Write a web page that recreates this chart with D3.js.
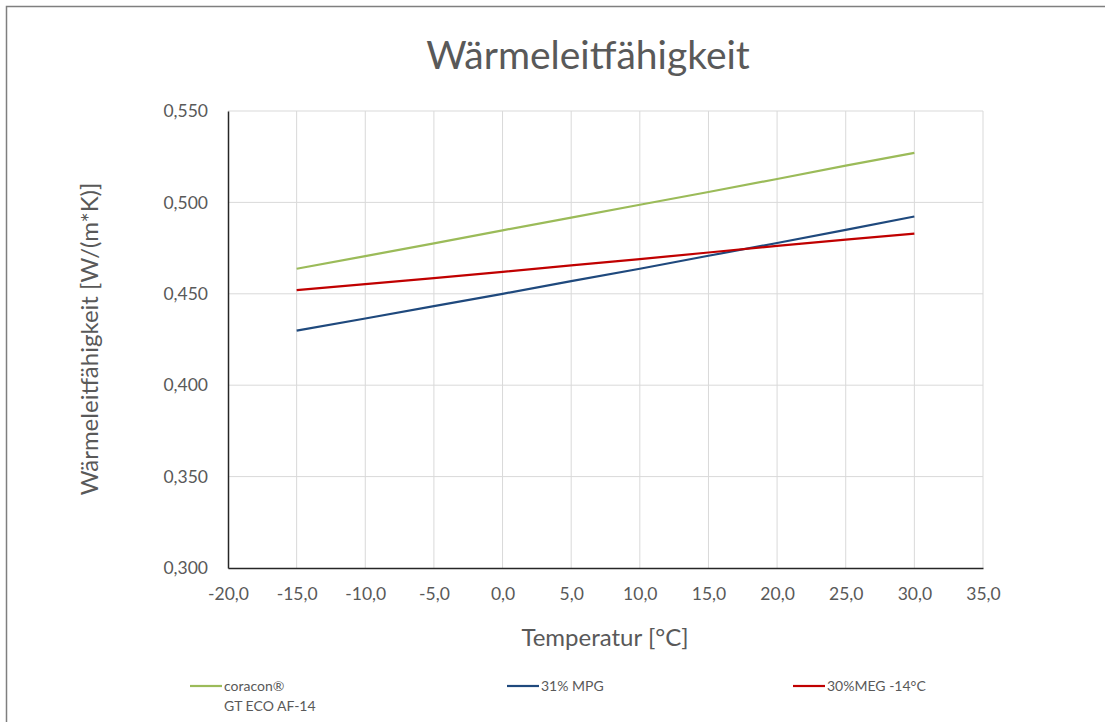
<!DOCTYPE html>
<html>
<head>
<meta charset="utf-8">
<script src="https://cdn.jsdelivr.net/npm/d3@7"></script>
<style>
  body { margin: 0; background: #fff; overflow: hidden; }
  svg { display: block; }
  text { font-family: "Lato", "Open Sans", sans-serif; fill: #595959; }
</style>
</head>
<body>
<div id="chart"></div>
<script>
// temperatures (°C)
var temps = [-15, -10, -5, 0, 5, 10, 15, 20, 25, 30];

// thermal conductivity W/(m*K)
var coraconValues = [0.4637, 0.4706, 0.4776, 0.4847, 0.4917, 0.4987, 0.5057, 0.5128, 0.5201, 0.5271];
var mpgValues     = [0.4299, 0.4365, 0.4433, 0.4500, 0.4569, 0.4637, 0.4708, 0.4778, 0.4850, 0.4923];
var megValues     = [0.4520, 0.4553, 0.4586, 0.4620, 0.4655, 0.4690, 0.4726, 0.4762, 0.4796, 0.4829];

var seriesNames  = [["coracon®", "GT ECO AF-14"], ["31% MPG"], ["30%MEG -14°C"]];
var seriesColors = ["#9bbb59", "#1f497d", "#c00000"];

var xTicks = [-20, -15, -10, -5, 0, 5, 10, 15, 20, 25, 30, 35];
var yTicks = [0.300, 0.350, 0.400, 0.450, 0.500, 0.550];

var w = 1105, h = 722;
var margin = {left: 228, right: 1105 - 983, top: 111, bottom: 722 - 568};

var svg = d3.select("#chart")
      .append("svg")
      .attr("width", w)
      .attr("height", h);

// outer frame (only top and left edges visible)
svg.append("path")
   .attr("d", "M6.5," + (h + 5) + "V6.5H" + (w + 5))
   .attr("fill", "none")
   .attr("stroke", "#7f7f7f")
   .attr("stroke-width", 1.5);

var x = d3.scaleLinear().domain([-20, 35]).range([margin.left, w - margin.right]);
var y = d3.scaleLinear().domain([0.300, 0.550]).range([h - margin.bottom, margin.top]);

var comma = function(d, n) { return d.toFixed(n).replace(".", ","); };

// gridlines
svg.append("g")
   .selectAll("line")
   .data(xTicks.slice(1))
   .enter()
   .append("line")
   .attr("x1", function(d) { return x(d); })
   .attr("x2", function(d) { return x(d); })
   .attr("y1", y(0.300))
   .attr("y2", y(0.550))
   .attr("stroke", "#d9d9d9")
   .attr("stroke-width", 1);

svg.append("g")
   .selectAll("line")
   .data(yTicks.slice(1))
   .enter()
   .append("line")
   .attr("x1", x(-20))
   .attr("x2", x(35))
   .attr("y1", function(d) { return y(d); })
   .attr("y2", function(d) { return y(d); })
   .attr("stroke", "#d9d9d9")
   .attr("stroke-width", 1);

// axes
var xAxis = svg.append("g")
   .attr("transform", "translate(0," + y(0.300) + ")")
   .call(d3.axisBottom(x).tickValues(xTicks).tickSize(0).tickPadding(20)
         .tickFormat(function(d) { return comma(d, 1); }));
var yAxis = svg.append("g")
   .attr("transform", "translate(" + x(-20) + ",0)")
   .call(d3.axisLeft(y).tickValues(yTicks).tickSize(0).tickPadding(20)
         .tickFormat(function(d) { return comma(d, 3); }));

[xAxis, yAxis].forEach(function(a) {
  a.select(".domain").attr("stroke", "#262626").attr("stroke-width", 1.5);
  a.selectAll("text")
   .attr("font-family", "Lato, sans-serif")
   .attr("font-size", "17.5px")
   .attr("fill", "#595959");
});

// lines
var allSeries = [coraconValues, mpgValues, megValues];
var line = d3.line()
   .x(function(d, i) { return x(temps[i]); })
   .y(function(d) { return y(d); });

svg.selectAll("path.series")
   .data(allSeries)
   .enter()
   .append("path")
   .attr("class", "series")
   .attr("d", line)
   .attr("fill", "none")
   .attr("stroke", function(d, i) { return seriesColors[i]; })
   .attr("stroke-width", 2.2);

// titles
svg.append("text")
   .text("Wärmeleitfähigkeit")
   .attr("x", 588)
   .attr("y", 69)
   .attr("text-anchor", "middle")
   .attr("font-size", "39px");

svg.append("text")
   .text("Temperatur [°C]")
   .attr("x", 605)
   .attr("y", 646)
   .attr("text-anchor", "middle")
   .attr("font-size", "24px");

svg.append("text")
   .text("Wärmeleitfähigkeit [W/(m*K)]")
   .attr("transform", "translate(98,339) rotate(-90)")
   .attr("text-anchor", "middle")
   .attr("font-size", "24px");

// legend
var legendX = [190, 507, 793];
var legend = svg.selectAll("g.legend")
   .data(seriesNames)
   .enter()
   .append("g")
   .attr("class", "legend")
   .attr("transform", function(d, i) { return "translate(" + legendX[i] + ",686)"; });

legend.append("line")
   .attr("x1", 0).attr("x2", 32)
   .attr("stroke", function(d, i) { return seriesColors[i]; })
   .attr("stroke-width", 2.2);

legend.each(function(d) {
  var t = d3.select(this).append("text")
     .attr("font-size", "14px")
     .attr("y", 5);
  d.forEach(function(s, k) {
    t.append("tspan").attr("x", 34).attr("dy", k === 0 ? 0 : 20).text(s);
  });
});
</script>
</body>
</html>
